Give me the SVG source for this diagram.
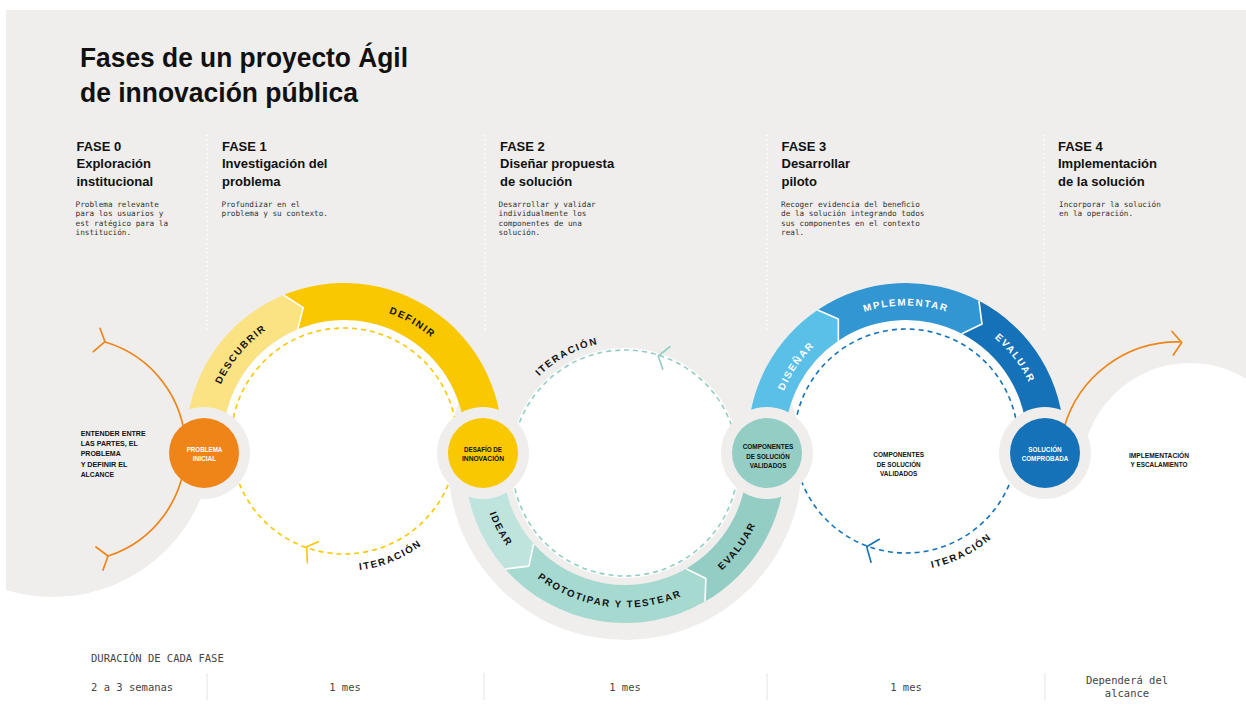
<svg xmlns="http://www.w3.org/2000/svg" width="1246" height="720" viewBox="0 0 1246 720">
<defs>
<style>
.bg{fill:#efeeec}
.title{font-family:"Liberation Sans",Arial,sans-serif;font-weight:bold;font-size:27px;fill:#111}
.hd{font-family:"Liberation Sans",Arial,sans-serif;font-weight:bold;font-size:13px;fill:#111}
.mono{font-family:"DejaVu Sans Mono","Liberation Mono",monospace;font-size:7.7px;fill:#333}
.bot{font-family:"DejaVu Sans Mono","Liberation Mono",monospace;font-size:10.5px;fill:#444}
.lbl{font-family:"Liberation Sans",Arial,sans-serif;font-weight:bold;font-size:7.8px;fill:#111}
.lblw{font-family:"Liberation Sans",Arial,sans-serif;font-weight:bold;font-size:7.8px;fill:#fff}
.ring{font-family:"Liberation Sans",Arial,sans-serif;font-weight:bold;font-size:9.8px;letter-spacing:1.6px;fill:#111}
.ringw{font-family:"Liberation Sans",Arial,sans-serif;font-weight:bold;font-size:9.8px;letter-spacing:1.6px;fill:#fff}
.dot{stroke:#fff;stroke-width:1.5;stroke-dasharray:1.5 3;fill:none}
.sep{stroke:#e3e3e3;stroke-width:1;fill:none}
.cut{stroke:#fff;stroke-width:1.6;fill:none;stroke-linejoin:round}
.dash{fill:none;stroke-width:1.6;stroke-dasharray:5 4}
.chev{fill:none;stroke-width:1.6;stroke-linecap:round;stroke-linejoin:round}
.orange{fill:none;stroke:#ef8519;stroke-width:1.7;stroke-linecap:round;stroke-linejoin:round}
.halo{fill:#efeeec}
</style>
<clipPath id="clipL"><rect x="6" y="0" width="400" height="720"/></clipPath>
<path id="tp-descubrir" d="M209.02,429.19 A135.5,135.5 0 0 1 308.93,310.12"/>
<path id="tp-definir" d="M332.19,306.02 A135.5,135.5 0 0 1 466.80,383.74"/>
<path id="tp-it1" d="M314.76,567.67 A130,130 0 0 0 453.03,511.80"/>
<path id="tp-idear" d="M480.59,457.96 A144.5,144.5 0 0 0 548.43,585.54"/>
<path id="tp-proto" d="M511.13,551.96 A144.5,144.5 0 0 0 713.96,576.87"/>
<path id="tp-eval2" d="M682.62,595.52 A144.5,144.5 0 0 0 768.57,479.36"/>
<path id="tp-it2" d="M515.72,408.75 A122,122 0 0 1 638.60,341.76"/>
<path id="tp-disenar" d="M774.37,431.10 A132,132 0 0 1 848.76,322.06"/>
<path id="tp-impl" d="M828.28,330.01 A135.5,135.5 0 0 1 983.72,330.01"/>
<path id="tp-eval3" d="M947.58,311.51 A136,136 0 0 1 1041.90,435.78"/>
<path id="tp-it3" d="M887.08,569.11 A129.5,129.5 0 0 0 1019.91,502.59"/>
</defs>

<rect width="1246" height="720" fill="#fff"/>

<g id="background">
  <rect class="bg" x="6" y="10" width="1240" height="431"/>
  <circle class="bg" cx="53" cy="437" r="160" clip-path="url(#clipL)"/>
  <circle cx="344" cy="441" r="121" fill="#fff"/>
  <circle cx="906" cy="441" r="121" fill="#fff"/>
  <circle cx="1190" cy="471" r="108" fill="#fff"/>
  <circle class="bg" cx="625" cy="463" r="177"/>
  <circle cx="625" cy="463" r="115" fill="#fff"/>
  <line class="dot" x1="207" y1="135" x2="207" y2="332"/>
  <line class="dot" x1="485" y1="135" x2="485" y2="332"/>
  <line class="dot" x1="767" y1="135" x2="767" y2="332"/>
  <line class="dot" x1="1044" y1="135" x2="1044" y2="332"/>
</g>

<g id="title">
  <text class="title" x="80" y="67" textLength="328" lengthAdjust="spacingAndGlyphs">Fases de un proyecto Ágil</text>
  <text class="title" x="80" y="102" textLength="278" lengthAdjust="spacingAndGlyphs">de innovación pública</text>
</g>

<g id="fase0">
  <text class="hd" x="76.5" y="150.7">FASE 0</text>
  <text class="hd" x="76.5" y="168">Exploración</text>
  <text class="hd" x="76.5" y="185.5">institucional</text>
  <text class="mono" x="75.5" y="207">Problema relevante</text>
  <text class="mono" x="75.5" y="216.3">para los usuarios y</text>
  <text class="mono" x="75.5" y="225.6">est ratégico para la</text>
  <text class="mono" x="75.5" y="234.9">institución.</text>
</g>
<g id="fase1">
  <text class="hd" x="222" y="150.7">FASE 1</text>
  <text class="hd" x="222" y="168">Investigación del</text>
  <text class="hd" x="222" y="185.5">problema</text>
  <text class="mono" x="221.5" y="207">Profundizar en el</text>
  <text class="mono" x="221.5" y="216.3">problema y su contexto.</text>
</g>
<g id="fase2">
  <text class="hd" x="500" y="150.7">FASE 2</text>
  <text class="hd" x="500" y="168">Diseñar propuesta</text>
  <text class="hd" x="500" y="185.5">de solución</text>
  <text class="mono" x="498.5" y="207">Desarrollar y validar</text>
  <text class="mono" x="498.5" y="216.3">individualmente los</text>
  <text class="mono" x="498.5" y="225.6">componentes de una</text>
  <text class="mono" x="498.5" y="234.9">solución.</text>
</g>
<g id="fase3">
  <text class="hd" x="781.5" y="150.7">FASE 3</text>
  <text class="hd" x="781.5" y="168">Desarrollar</text>
  <text class="hd" x="781.5" y="185.5">piloto</text>
  <text class="mono" x="781" y="207">Recoger evidencia del beneﬁcio</text>
  <text class="mono" x="781" y="216.3">de la solución integrando todos</text>
  <text class="mono" x="781" y="225.6">sus componentes en el contexto</text>
  <text class="mono" x="781" y="234.9">real.</text>
</g>
<g id="fase4">
  <text class="hd" x="1058" y="150.7">FASE 4</text>
  <text class="hd" x="1058" y="168">Implementación</text>
  <text class="hd" x="1058" y="185.5">de la solución</text>
  <text class="mono" x="1059" y="207">Incorporar la solución</text>
  <text class="mono" x="1059" y="216.3">en la operación.</text>
</g>

<g id="ring-fase1">
  <path d="M186,441 A158,158 0 0 1 283.54,295.03 L303.21,307.60 L297.70,329.21 A121,121 0 0 0 223,441 Z" fill="#fbe283"/>
  <path d="M283.54,295.03 A158,158 0 0 1 502,441 L465,441 A121,121 0 0 0 297.70,329.21 L303.21,307.60 Z" fill="#f9c800"/>
  <polyline class="cut" points="283.54,295.03 303.21,307.60 297.70,329.21"/>
  <text class="ring" text-anchor="middle"><textPath href="#tp-descubrir" startOffset="50%">DESCUBRIR</textPath></text>
  <text class="ring" text-anchor="middle"><textPath href="#tp-definir" startOffset="50%">DEFINIR</textPath></text>
</g>

<g id="ring-fase2">
  <path d="M465,463 A160,160 0 0 0 505.17,569.02 L528.84,566.12 L533.63,543.84 A122,122 0 0 1 503,463 Z" fill="#bfe3dd"/>
  <path d="M505.17,569.02 A160,160 0 0 0 705,601.56 L705.87,578.50 L686,568.66 A122,122 0 0 1 533.63,543.84 L528.84,566.12 Z" fill="#a6d9d0"/>
  <path d="M705,601.56 A160,160 0 0 0 785,463 L747,463 A122,122 0 0 1 686,568.66 L705.87,578.50 Z" fill="#93cdc3"/>
  <polyline class="cut" points="505.17,569.02 528.84,566.12 533.63,543.84"/>
  <polyline class="cut" points="705,601.56 705.87,578.50 686,568.66"/>
  <text class="ring" text-anchor="middle"><textPath href="#tp-idear" startOffset="50%">IDEAR</textPath></text>
  <text class="ring" text-anchor="middle"><textPath href="#tp-proto" startOffset="50%">PROTOTIPAR Y TESTEAR</textPath></text>
  <text class="ring" text-anchor="middle"><textPath href="#tp-eval2" startOffset="50%">EVALUAR</textPath></text>
</g>

<g id="ring-fase3">
  <path d="M748,441 A158,158 0 0 1 817.65,310.01 L838.37,318.99 L838.34,340.69 A121,121 0 0 0 785,441 Z" fill="#5bc0e7"/>
  <path d="M817.65,310.01 A158,158 0 0 1 978.96,300.85 L981.98,324.01 L961.87,333.67 A121,121 0 0 0 838.34,340.69 L838.37,318.99 Z" fill="#3296d3"/>
  <path d="M978.96,300.85 A158,158 0 0 1 1064,441 L1027,441 A121,121 0 0 0 961.87,333.67 L981.98,324.01 Z" fill="#1572b8"/>
  <polyline class="cut" points="817.65,310.01 838.37,318.99 838.34,340.69"/>
  <polyline class="cut" points="978.96,300.85 981.98,324.01 961.87,333.67"/>
  <text class="ringw" text-anchor="middle"><textPath href="#tp-disenar" startOffset="50%">DISEÑAR</textPath></text>
  <text class="ringw" text-anchor="middle"><textPath href="#tp-impl" startOffset="50%">MPLEMENTAR</textPath></text>
  <text class="ringw" text-anchor="middle"><textPath href="#tp-eval3" startOffset="50%">EVALUAR</textPath></text>
</g>

<g id="iteration-loops">
  <circle class="dash" cx="344" cy="441" r="113" stroke="#f9c800"/>
  <polyline class="chev" stroke="#f9c800" points="318.3,541.7 306.7,546.7 307.3,562.7"/>
  <text class="ring" text-anchor="middle"><textPath href="#tp-it1" startOffset="50%">ITERACIÓN</textPath></text>
  <circle class="dash" cx="625" cy="463" r="113" stroke="#93cdc3"/>
  <polyline class="chev" stroke="#93cdc3" points="670,346.7 658.3,356 662.7,369.3"/>
  <text class="ring" text-anchor="middle"><textPath href="#tp-it2" startOffset="50%">ITERACIÓN</textPath></text>
  <circle class="dash" cx="906" cy="441" r="112" stroke="#1572b8"/>
  <polyline class="chev" stroke="#1572b8" points="879.3,539.3 866.7,546.7 871,562.3"/>
  <text class="ring" text-anchor="middle"><textPath href="#tp-it3" startOffset="50%">ITERACIÓN</textPath></text>
</g>

<g id="halos">
  <circle class="halo" cx="204" cy="453" r="46"/>
  <circle class="halo" cx="483" cy="453" r="46"/>
  <circle class="halo" cx="767" cy="453" r="46"/>
  <circle class="halo" cx="1045" cy="453" r="46"/>
</g>

<g id="connectors">
  <path class="orange" d="M105,342 A112,112 0 0 1 108,556"/>
  <polyline class="orange" points="100,328.3 105,341.7 93.3,351.7"/>
  <polyline class="orange" points="96,547 108,556 103,570"/>
  <path class="orange" d="M1064,428 A118,118 0 0 1 1180,342"/>
  <polyline class="orange" points="1172,331.5 1181.7,342.5 1173.3,355"/>
</g>

<g id="node-problema">
  <circle cx="204" cy="453" r="35" fill="#ef8519"/>
  <text class="lblw" x="204.5" y="451.7" text-anchor="middle" textLength="35.7" lengthAdjust="spacingAndGlyphs">PROBLEMA</text>
  <text class="lblw" x="204.5" y="460.8" text-anchor="middle" textLength="23.7" lengthAdjust="spacingAndGlyphs">INICIAL</text>
</g>
<g id="node-desafio">
  <circle cx="483" cy="453" r="35" fill="#f9c800"/>
  <text class="lbl" x="483" y="451.7" text-anchor="middle" textLength="38" lengthAdjust="spacingAndGlyphs">DESAFÍO DE</text>
  <text class="lbl" x="483" y="461" text-anchor="middle" textLength="42" lengthAdjust="spacingAndGlyphs">INNOVACIÓN</text>
</g>
<g id="node-componentes">
  <circle cx="767" cy="453" r="35" fill="#93cdc3"/>
  <text class="lbl" x="768" y="449.3" text-anchor="middle" textLength="50.7" lengthAdjust="spacingAndGlyphs">COMPONENTES</text>
  <text class="lbl" x="768" y="458.5" text-anchor="middle" textLength="43.3" lengthAdjust="spacingAndGlyphs">DE SOLUCIÓN</text>
  <text class="lbl" x="768" y="467.7" text-anchor="middle" textLength="36.7" lengthAdjust="spacingAndGlyphs">VALIDADOS</text>
</g>
<g id="node-solucion">
  <circle cx="1045" cy="453" r="35" fill="#1572b8"/>
  <text class="lblw" x="1045" y="452" text-anchor="middle" textLength="33.3" lengthAdjust="spacingAndGlyphs">SOLUCIÓN</text>
  <text class="lblw" x="1045" y="461.2" text-anchor="middle" textLength="46.7" lengthAdjust="spacingAndGlyphs">COMPROBADA</text>
</g>

<g id="label-entender">
  <text class="lbl" x="80.7" y="436" textLength="65" lengthAdjust="spacingAndGlyphs">ENTENDER ENTRE</text>
  <text class="lbl" x="80.7" y="446.2" textLength="57" lengthAdjust="spacingAndGlyphs">LAS PARTES, EL</text>
  <text class="lbl" x="80.7" y="456.4" textLength="40" lengthAdjust="spacingAndGlyphs">PROBLEMA</text>
  <text class="lbl" x="80.7" y="466.7" textLength="46.7" lengthAdjust="spacingAndGlyphs">Y DEFINIR EL</text>
  <text class="lbl" x="80.7" y="476.8" textLength="33.3" lengthAdjust="spacingAndGlyphs">ALCANCE</text>
</g>
<g id="label-componentes">
  <text class="lbl" x="898.7" y="457.3" text-anchor="middle" textLength="50.7" lengthAdjust="spacingAndGlyphs">COMPONENTES</text>
  <text class="lbl" x="898.7" y="466.6" text-anchor="middle" textLength="44" lengthAdjust="spacingAndGlyphs">DE SOLUCIÓN</text>
  <text class="lbl" x="898.7" y="475.8" text-anchor="middle" textLength="37.3" lengthAdjust="spacingAndGlyphs">VALIDADOS</text>
</g>
<g id="label-implementacion">
  <text class="lbl" x="1159" y="457.7" text-anchor="middle" textLength="60" lengthAdjust="spacingAndGlyphs">IMPLEMENTACIÓN</text>
  <text class="lbl" x="1159" y="467" text-anchor="middle" textLength="57" lengthAdjust="spacingAndGlyphs">Y ESCALAMIENTO</text>
</g>

<g id="duracion">
  <text class="bot" x="91" y="662">DURACIÓN DE CADA FASE</text>
  <text class="bot" x="91" y="691">2 a 3 semanas</text>
  <line class="sep" x1="207" y1="673" x2="207" y2="700"/>
  <text class="bot" x="345" y="691" text-anchor="middle">1 mes</text>
  <line class="sep" x1="484" y1="673" x2="484" y2="700"/>
  <text class="bot" x="625" y="691" text-anchor="middle">1 mes</text>
  <line class="sep" x1="767" y1="673" x2="767" y2="700"/>
  <text class="bot" x="906" y="691" text-anchor="middle">1 mes</text>
  <line class="sep" x1="1045" y1="673" x2="1045" y2="700"/>
  <text class="bot" x="1127" y="684" text-anchor="middle">Dependerá del</text>
  <text class="bot" x="1127" y="697" text-anchor="middle">alcance</text>
</g>
</svg>
